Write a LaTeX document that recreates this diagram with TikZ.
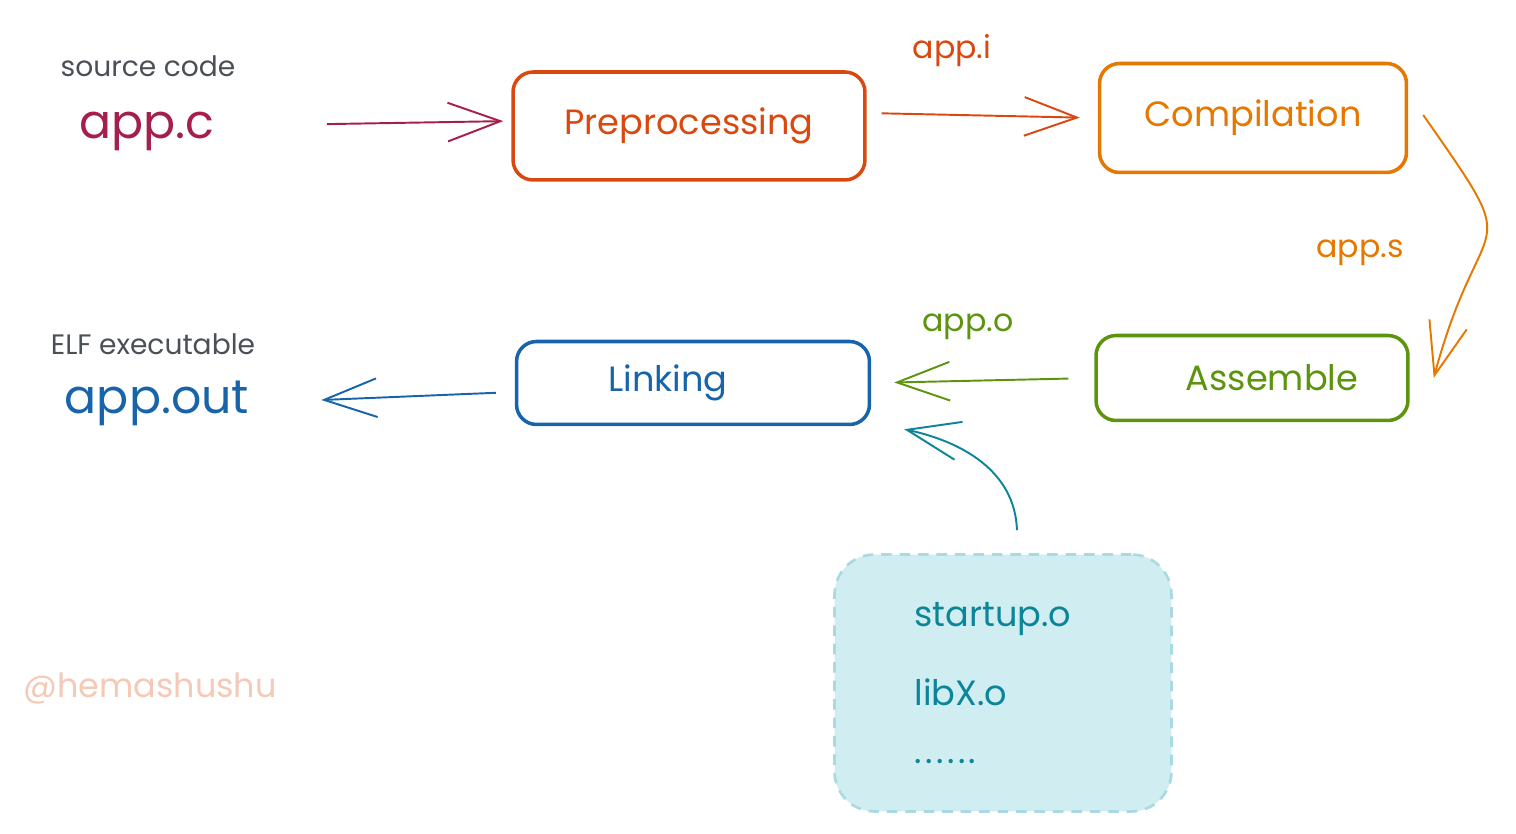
\documentclass[tikz,border=0pt]{standalone}
\usepackage{fontspec}
\setmainfont{Poppins}
\usetikzlibrary{arrows.meta,positioning}

\definecolor{srcred}{HTML}{A61E4D}
\definecolor{preorange}{HTML}{D9480F}
\definecolor{comporange}{HTML}{E67700}
\definecolor{asmgreen}{HTML}{5C940D}
\definecolor{linkblue}{HTML}{1864AB}
\definecolor{libteal}{HTML}{0C8599}
\definecolor{libfill}{HTML}{D0EDF1}
\definecolor{libedge}{HTML}{A9DAE2}
\definecolor{notegray}{HTML}{495057}
\definecolor{signpink}{HTML}{F4C9B5}

\tikzset{
  stage/.style={draw,rounded corners=0.4cm,line width=2pt,font=\fontsize{20}{24}\selectfont},
  flow/.style={line width=1.1pt,-{Straight Barb[length=30pt,width=22pt]}},
  note/.style={inner sep=0pt,text=notegray,font=\fontsize{16}{19}\selectfont},
  file/.style={inner sep=0pt,font=\fontsize{27}{32}\selectfont},
  tag/.style={inner sep=0pt,font=\fontsize{18}{22}\selectfont},
  libbox/.style={draw=libedge,fill=libfill,line width=1.5pt,dash pattern=on 6pt off 4.5pt,
    rounded corners=0.8cm,text=libteal,font=\fontsize{20}{24}\selectfont,
    inner xsep=1.6cm,text width=3.54cm,minimum height=5.14cm,align=left}
}
\newcommand{\dotrow}{.\kern2pt.\kern2pt.\kern2pt.\kern2pt.\kern2pt.}

\begin{document}
\begin{tikzpicture}[x=0.02cm,y=-0.02cm]
\useasboundingbox (0,0) rectangle (1516,834);

% inputs and output
\node[note] (srclbl) at (148,66) {source code};
\node[file,text=srcred] (appc) at (147,131) {app.c};
\node[note] (elflbl) at (153,344) {ELF executable};
\node[file,text=linkblue] (appout) at (157,403) {app.out};

% stages
\node[stage,draw=preorange,text=preorange,minimum width=7.04cm,minimum height=2.16cm] (prep) at (689,126) {Preprocessing};
\node[stage,draw=comporange,text=comporange,minimum width=6.14cm,minimum height=2.18cm] (comp) at (1253,118) {Compilation};
\node[stage,draw=asmgreen,text=asmgreen,minimum width=6.24cm,minimum height=1.7cm] (asm) at (1252,378) {\hspace*{0.8cm}Assemble};
\node[stage,draw=linkblue,text=linkblue,minimum width=7.06cm,minimum height=1.66cm] (link) at (693,383) {Linking\hspace*{1cm}};

\node[libbox] (lib) at (1003,683) {startup.o\\[0.75cm]libX.o\\[0.31cm]\dotrow};

% file names on the arrows
\node[tag,text=preorange] (appi) at (952,51) {app.i};
\node[tag,text=comporange] (apps) at (1360,253) {app.s};
\node[tag,text=asmgreen] (appo) at (968,327) {app.o};

\node[inner sep=0pt,text=signpink,font=\fontsize{19}{23}\selectfont] (sign) at (150,688) {@hemashushu};

% arrows
\draw[flow,srcred,shorten <=2.24cm,shorten >=0.16cm] ([yshift=0.1cm]appc.east) -- ([yshift=0.1cm]prep.west);
\draw[flow,preorange,shorten <=0.3cm,shorten >=0.36cm] ([yshift=0.26cm]prep.east) -- (comp.west);
\draw[flow,comporange] ([xshift=0.3cm,yshift=0.06cm]comp.east) to[out=-55,in=75,looseness=1.8] ([xshift=0.48cm]asm.east);
\draw[flow,asmgreen,shorten <=0.52cm,shorten >=0.46cm] (asm.west) -- (link.east);
\draw[flow,linkblue,shorten <=0.38cm,shorten >=1.44cm] ([yshift=-0.18cm]link.west) -- (appout.east);
\draw[flow,libteal] ([xshift=0.28cm,yshift=0.46cm]lib.north) to[out=92,in=-12] ([xshift=0.66cm,yshift=-0.06cm]link.south east);
\end{tikzpicture}
\end{document}
